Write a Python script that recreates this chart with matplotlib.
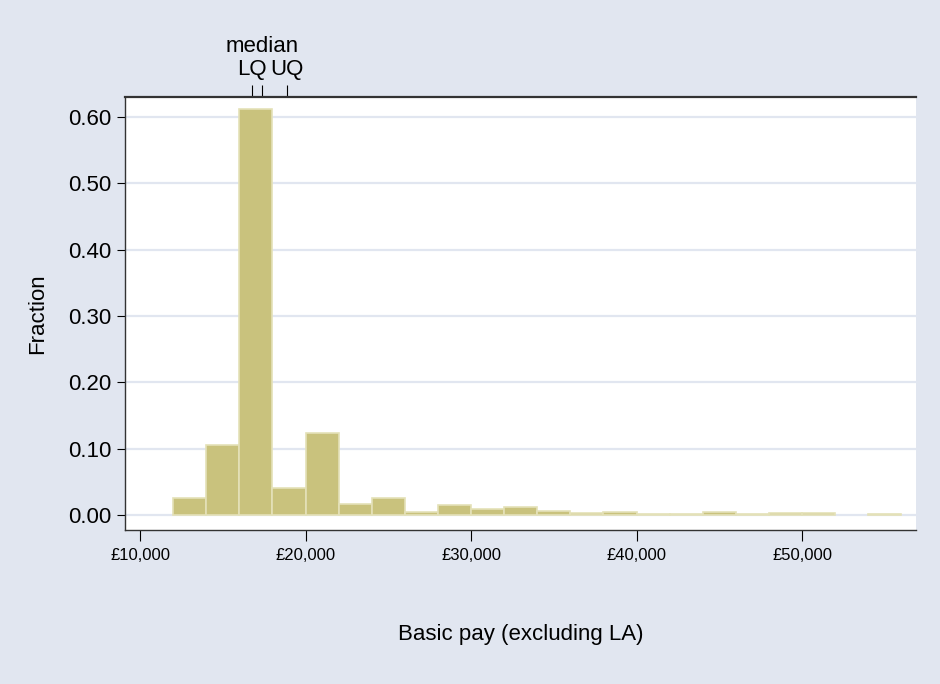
import numpy as np
import matplotlib.pyplot as plt
from matplotlib.ticker import FuncFormatter
import matplotlib.transforms as mtransforms

plt.rcParams['font.family'] = ['Liberation Sans', 'DejaVu Sans']

# histogram bins (GBP), width 2000
bin_edges = list(range(12000, 58000, 2000))
fractions = [0.026, 0.105, 0.612, 0.041, 0.123, 0.017, 0.025, 0.004, 0.015, 0.009,
             0.012, 0.0065, 0.0025, 0.005, 0.002, 0.002, 0.005, 0.002, 0.0025, 0.0025,
             0.0, 0.002]

quant_pos = [16790, 17390, 18900]
quant_labels = ['LQ', 'median', 'UQ']

x_ticks = [10000, 20000, 30000, 40000, 50000]
y_ticks = [0.0, 0.1, 0.2, 0.3, 0.4, 0.5, 0.6]

bg = '#e1e6f0'
bar_color = '#c9c27d'
edge_color = '#e4e1b8'

fig = plt.figure(figsize=(9.4, 6.84), dpi=100)
fig.patch.set_facecolor(bg)
ax = fig.add_axes([0.133, 0.2251, 0.8415, 0.6331])
ax.set_facecolor('white')

lefts = [b for b, f in zip(bin_edges[:-1], fractions) if f > 0]
heights = [f for f in fractions if f > 0]
ax.bar(lefts, heights, width=2000, align='edge', color=bar_color,
       edgecolor=edge_color, linewidth=1.2, zorder=3)

ax.set_xlim(9094, 56890)
ax.set_ylim(-0.0226, 0.630)
ax.set_yticks(y_ticks)
ax.yaxis.set_major_formatter(FuncFormatter(lambda v, p: f'{v:.2f}'))
ax.set_xticks(x_ticks)
ax.xaxis.set_major_formatter(FuncFormatter(lambda v, p: f'£{int(v):,}'))
ax.grid(axis='y', color=bg, linewidth=1.6, zorder=1)

ax.tick_params(axis='y', labelsize=16, length=6, width=0.8, pad=4)
ax.tick_params(axis='x', labelsize=12, length=8, width=0.8, pad=5)

ax.spines['right'].set_visible(False)
for s in ['left', 'bottom', 'top']:
    ax.spines[s].set_color('#333333')
    ax.spines[s].set_linewidth(1.0)
ax.spines['top'].set_linewidth(1.6)

ax.set_ylabel('Fraction', fontsize=16, labelpad=14)
ax.set_xlabel('Basic pay (excluding LA)', fontsize=16, labelpad=44)

# quartile ticks along the top
top = ax.secondary_xaxis('top')
top.set_xticks(quant_pos)
top.set_xticklabels(['', '', ''])
top.tick_params(length=9, width=0.8, direction='out')
top.spines['top'].set_visible(False)

trans = mtransforms.blended_transform_factory(ax.transData, ax.transAxes)
for pos, lab in zip(quant_pos, quant_labels):
    yy = 1.093 if lab == 'median' else 1.04
    ax.text(pos, yy, lab, transform=trans, ha='center', va='bottom', fontsize=16)

fig.savefig('out.png', dpi=100, facecolor=bg)
